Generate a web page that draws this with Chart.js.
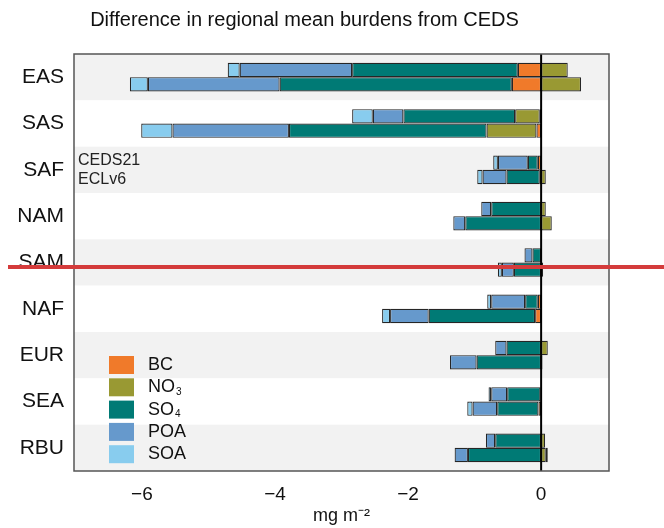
<!DOCTYPE html>
<html>
<head>
<meta charset="utf-8">
<script src="https://cdn.jsdelivr.net/npm/chart.js@4/dist/chart.umd.min.js"></script>
<style>
  html, body { margin: 0; padding: 0; background: #fff; }
  #wrap { width: 664px; height: 528px; }
</style>
</head>
<body>
<div id="wrap"><canvas id="chart" width="664" height="528"></canvas></div>
<script>
// regions, top to bottom
var regions = ['EAS', 'SAS', 'SAF', 'NAM', 'SAM', 'NAF', 'EUR', 'SEA', 'RBU'];
var species = ['BC', 'NO3', 'SO4', 'POA', 'SOA'];
var models = ['CEDS21', 'ECLv6'];
var xTicks = [-6, -4, -2, 0];

// difference in burden (mg m-2), CEDS21 - CEDS
var ceds21BC  = [-0.35, -0.02, -0.05, null, null, -0.05, null, -0.01, null];
var ceds21NO3 = [0.40, -0.37, null, 0.07, 0.01, null, 0.10, null, 0.06];
var ceds21SO4 = [-2.49, -1.68, -0.15, -0.75, -0.13, -0.19, -0.52, -0.50, -0.69];
var ceds21POA = [-1.69, -0.46, -0.45, -0.15, -0.12, -0.51, -0.17, -0.24, -0.14];
var ceds21SOA = [-0.18, -0.31, -0.07, null, null, -0.06, null, -0.04, null];

// ECLv6 - CEDS
var eclBC  = [-0.44, -0.07, -0.02, null, null, -0.09, null, -0.04, null];
var eclNO3 = [0.60, -0.75, 0.07, 0.16, 0.03, null, 0.02, null, 0.07];
var eclSO4 = [-3.49, -2.97, -0.50, -1.14, -0.41, -1.60, -0.97, -0.62, -1.10];
var eclPOA = [-1.98, -1.75, -0.36, -0.18, -0.18, -0.58, -0.40, -0.37, -0.20];
var eclSOA = [-0.27, -0.47, -0.08, null, -0.06, -0.12, null, -0.08, 0.03];

var colores = ['#f07a2a', '#999933', '#007a75', '#6699cc', '#88ccee'];
var fuente = "'Liberation Sans', Arial, sans-serif";

var valores = [
    [ceds21BC, ceds21NO3, ceds21SO4, ceds21POA, ceds21SOA],
    [eclBC, eclNO3, eclSO4, eclPOA, eclSOA]
];

var datasets = [];
models.forEach(function (m, mi) {
    species.forEach(function (s, si) {
        datasets.push({
            label: s + ' ' + m,
            stack: m,
            data: valores[mi][si],
            backgroundColor: colores[si],
            borderColor: '#262626',
            borderWidth: 1.2,
            borderSkipped: false,
            categoryPercentage: 0.62,
            barPercentage: 1.0
        });
    });
});

// grey/white bands behind each region
var bandas = {
    id: 'bandas',
    beforeDatasetsDraw: function (chart) {
        var ctx = chart.ctx, a = chart.chartArea, y = chart.scales.y;
        var half = (y.getPixelForValue(1) - y.getPixelForValue(0)) / 2;
        ctx.save();
        regions.forEach(function (r, i) {
            var c = y.getPixelForValue(i);
            ctx.fillStyle = (i % 2 === 0) ? '#f2f2f2' : '#ffffff';
            ctx.fillRect(a.left, c - half, a.right - a.left, half * 2);
        });
        ctx.restore();
    }
};

var extras = {
    id: 'extras',
    afterDatasetsDraw: function (chart) {
        var ctx = chart.ctx, a = chart.chartArea, x = chart.scales.x, y = chart.scales.y;
        ctx.save();
        // zero line
        var x0 = x.getPixelForValue(0);
        ctx.strokeStyle = '#000';
        ctx.lineWidth = 2;
        ctx.beginPath();
        ctx.moveTo(x0, a.top);
        ctx.lineTo(x0, a.bottom);
        ctx.stroke();
        // frame
        ctx.strokeStyle = '#555';
        ctx.lineWidth = 1.5;
        ctx.strokeRect(a.left, a.top, a.right - a.left, a.bottom - a.top);

        // model labels in SAF row
        var cSAF = y.getPixelForValue(2);
        ctx.fillStyle = '#222';
        ctx.font = '16px ' + fuente;
        ctx.textAlign = 'left';
        ctx.textBaseline = 'middle';
        ctx.fillText(models[0], a.left + 4, cSAF - 9);
        ctx.fillText(models[1], a.left + 4, cSAF + 10);

        // legend
        var lx = a.left + 35, ly = 356;
        species.forEach(function (s, i) {
            var top = ly + i * 22.3;
            ctx.fillStyle = colores[i];
            ctx.fillRect(lx, top, 25, 18);
            ctx.fillStyle = '#111';
            ctx.font = '18px ' + fuente;
            ctx.textAlign = 'left';
            ctx.textBaseline = 'middle';
            var main = s, sub = '';
            if (s === 'NO3' || s === 'SO4') { main = s.slice(0, 2); sub = s.slice(2); }
            ctx.fillText(main, lx + 39, top + 9);
            if (sub) {
                var w = ctx.measureText(main).width;
                ctx.font = '10px ' + fuente;
                ctx.fillText(sub, lx + 39 + w + 1, top + 14);
            }
        });
        ctx.restore();
    },
    afterDraw: function (chart) {
        // red horizontal mark across the figure
        var ctx = chart.ctx;
        ctx.save();
        ctx.strokeStyle = '#d43b3b';
        ctx.lineWidth = 4;
        ctx.beginPath();
        ctx.moveTo(8, 267);
        ctx.lineTo(664, 267);
        ctx.stroke();
        ctx.restore();
    }
};

var canvas = document.getElementById('chart').getContext('2d');
window.bar = new Chart(canvas, {
    type: 'bar',
    data: {
        labels: regions,
        datasets: datasets
    },
    options: {
        indexAxis: 'y',
        responsive: false,
        animation: false,
        layout: {
            padding: { left: 0, right: 55, top: 0, bottom: 0 }
        },
        plugins: {
            legend: { display: false },
            tooltip: { enabled: false },
            title: {
                display: true,
                text: 'Difference in regional mean burdens from CEDS',
                color: '#111',
                font: { family: fuente, size: 20, weight: 'normal' },
                padding: { top: 8, bottom: 22 }
            }
        },
        scales: {
            x: {
                stacked: true,
                min: -7.02,
                max: 1.02,
                grid: { display: false, drawTicks: false, tickLength: 0 },
                border: { display: false },
                afterBuildTicks: function (scale) {
                    scale.ticks = xTicks.map(function (v) { return { value: v }; });
                },
                afterFit: function (scale) { scale.height = 57; },
                ticks: {
                    color: '#111',
                    padding: 12,
                    font: { family: fuente, size: 19 },
                    callback: function (v) { return String(v).replace('-', '\u2212'); }
                },
                title: {
                    display: true,
                    text: 'mg m\u207B\u00B2',
                    color: '#111',
                    font: { family: fuente, size: 18 },
                    padding: { top: 0, bottom: 1 }
                }
            },
            y: {
                stacked: true,
                grid: { display: false, drawTicks: false, tickLength: 0 },
                border: { display: false },
                afterFit: function (scale) { scale.width = 74; },
                ticks: {
                    color: '#111',
                    padding: 10,
                    font: { family: fuente, size: 21 }
                }
            }
        }
    },
    plugins: [bandas, extras]
});
</script>
</body>
</html>
